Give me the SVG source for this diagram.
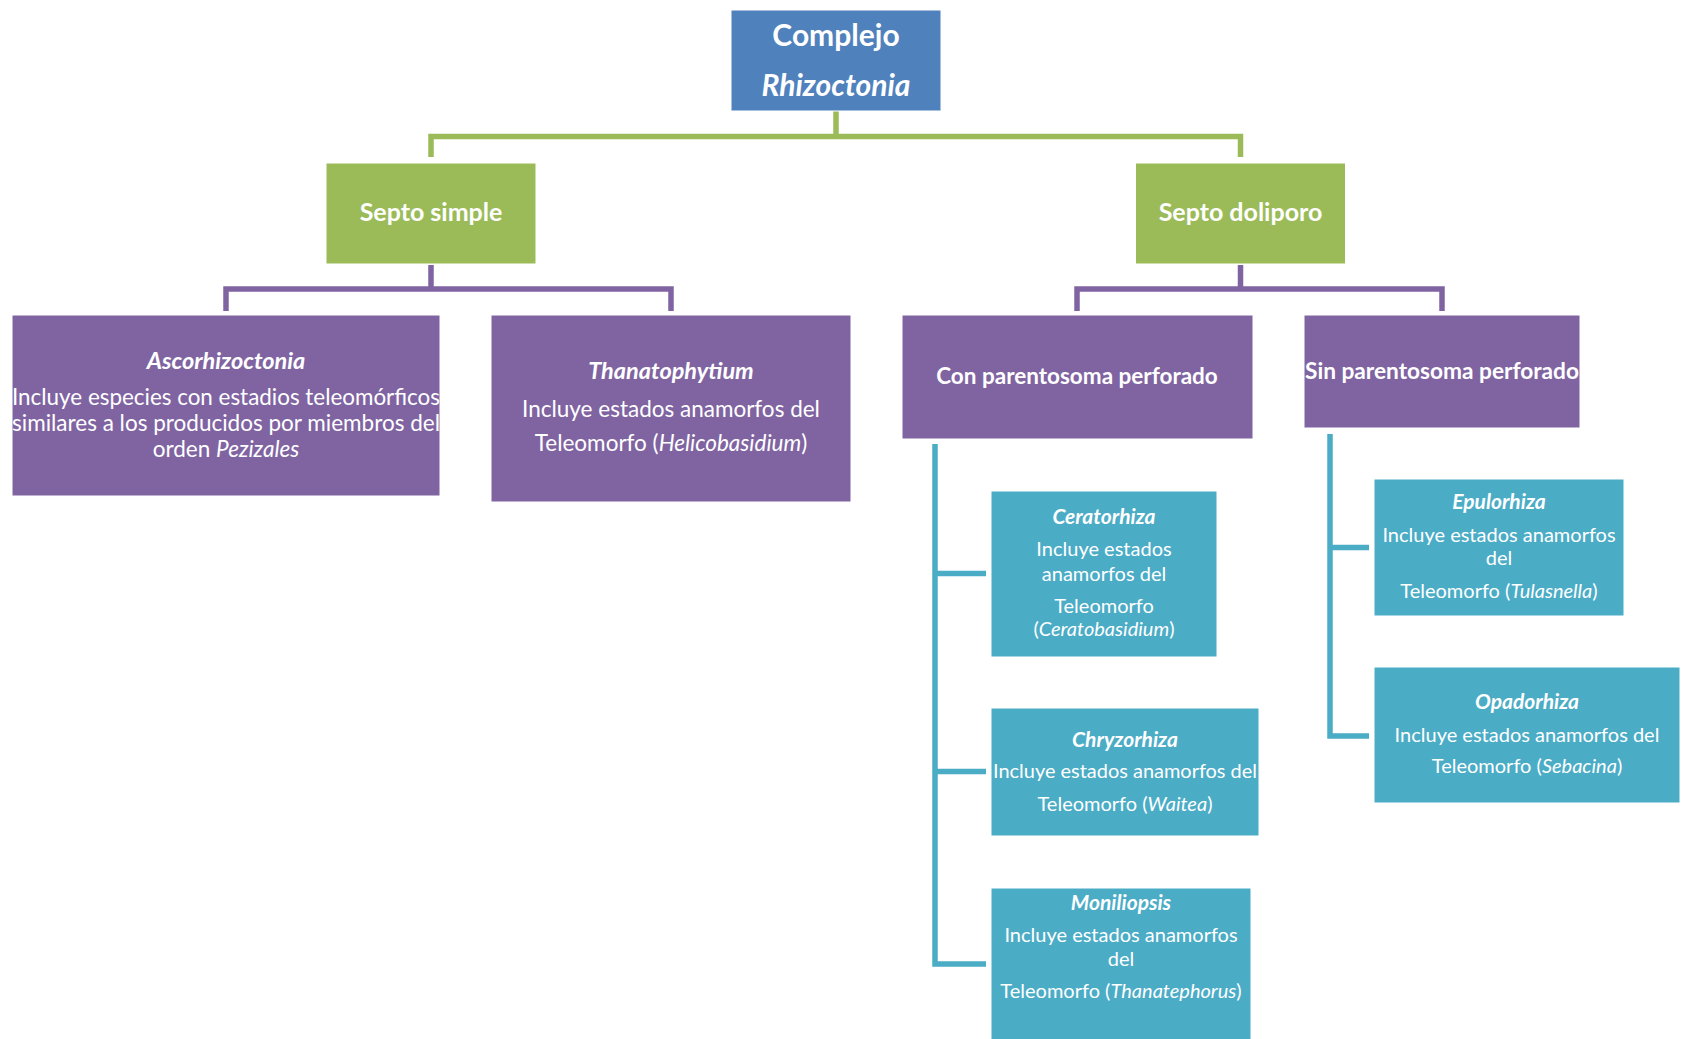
<svg xmlns="http://www.w3.org/2000/svg" width="1687" height="1039" viewBox="0 0 1687 1039">
<style>
text{font-family:Lato,"Open Sans","Liberation Sans",sans-serif;fill:#fff;text-anchor:middle}
.blue{fill:#4F81BD;stroke:#fff;stroke-width:1}
.green{fill:#9BBB59;stroke:#fff;stroke-width:1}
.purple{fill:#8064A2;stroke:#fff;stroke-width:1}
.teal{fill:#4BACC6;stroke:#fff;stroke-width:1}
.h1{font-size:30px;font-weight:bold}
.h2{font-size:25px;font-weight:bold}
.h3{font-size:22.5px;font-weight:bold}
.pt{font-size:23.5px;font-weight:bold;font-style:italic}
.pb{font-size:22.5px}
.tt{font-size:21px;font-weight:bold;font-style:italic}
.tb{font-size:20px}
.c{fill:none;stroke-width:5.5;stroke-linejoin:miter}
</style>
<rect width="1687" height="1039" fill="#fff"/>
<g id="connectors">
<path class="c" stroke="#9BBB59" d="M836 111 V136.5 M431 157 V136.5 H1240.5 V157"/>
<path class="c" stroke="#8064A2" d="M431 265 V289 M226 311 V289 H671 V311"/>
<path class="c" stroke="#8064A2" d="M1240.5 265 V289 M1077 311 V289 H1442 V311"/>
<path class="c" stroke="#4BACC6" d="M935 444 V964 H986 M935 573.5 H986 M935 771.5 H986"/>
<path class="c" stroke="#4BACC6" d="M1330 434 V736 H1369 M1330 547.6 H1369"/>
</g>
<g id="root">
<rect class="blue" x="731" y="10" width="210" height="101"/>
<text class="h1" x="836" y="46">Complejo</text>
<text class="h1" x="836" y="95.5" font-style="italic">Rhizoctonia</text>
</g>
<g id="septo-simple">
<rect class="green" x="326" y="163" width="210" height="101"/>
<text class="h2" x="431" y="221">Septo simple</text>
</g>
<g id="septo-doliporo">
<rect class="green" x="1135.5" y="163" width="210" height="101"/>
<text class="h2" x="1240.5" y="221">Septo doliporo</text>
</g>
<g id="ascorhizoctonia">
<rect class="purple" x="12" y="315" width="428" height="181"/>
<text class="pt" x="226" y="368.5">Ascorhizoctonia</text>
<text class="pb" x="226" y="405" textLength="428" lengthAdjust="spacingAndGlyphs">Incluye especies con estadios teleomórficos</text>
<text class="pb" x="226" y="431" textLength="428" lengthAdjust="spacingAndGlyphs">similares a los producidos por miembros del</text>
<text class="pb" x="226" y="456.5">orden <tspan font-style="italic">Pezizales</tspan></text>
</g>
<g id="thanatophytium">
<rect class="purple" x="491" y="315" width="360" height="187"/>
<text class="pt" x="671" y="379">Thanatophytium</text>
<text class="pb" x="671" y="417">Incluye estados anamorfos del</text>
<text class="pb" x="671" y="451">Teleomorfo (<tspan font-style="italic">Helicobasidium</tspan>)</text>
</g>
<g id="con-parentosoma">
<rect class="purple" x="902" y="315" width="351" height="124"/>
<text class="h3" x="1077" y="383.5">Con parentosoma perforado</text>
</g>
<g id="sin-parentosoma">
<rect class="purple" x="1304" y="315" width="276" height="113"/>
<text class="h3" x="1442" y="379" textLength="274" lengthAdjust="spacingAndGlyphs">Sin parentosoma perforado</text>
</g>
<g id="ceratorhiza">
<rect class="teal" x="991" y="491" width="226" height="166"/>
<text class="tt" x="1104" y="523.5">Ceratorhiza</text>
<text class="tb" x="1104" y="556">Incluye estados</text>
<text class="tb" x="1104" y="580.5">anamorfos del</text>
<text class="tb" x="1104" y="612.7">Teleomorfo</text>
<text class="tb" x="1104" y="636.4">(<tspan font-style="italic">Ceratobasidium</tspan>)</text>
</g>
<g id="chryzorhiza">
<rect class="teal" x="991" y="708" width="268" height="128"/>
<text class="tt" x="1125" y="746.5">Chryzorhiza</text>
<text class="tb" x="1125" y="778.4" textLength="264" lengthAdjust="spacingAndGlyphs">Incluye estados anamorfos del</text>
<text class="tb" x="1125" y="810.7">Teleomorfo (<tspan font-style="italic">Waitea</tspan>)</text>
</g>
<g id="moniliopsis">
<rect class="teal" x="991" y="888" width="260" height="160"/>
<text class="tt" x="1121" y="910">Moniliopsis</text>
<text class="tb" x="1121" y="942">Incluye estados anamorfos</text>
<text class="tb" x="1121" y="965.6">del</text>
<text class="tb" x="1121" y="998">Teleomorfo (<tspan font-style="italic">Thanatephorus</tspan>)</text>
</g>
<g id="epulorhiza">
<rect class="teal" x="1374" y="479" width="250" height="137"/>
<text class="tt" x="1499" y="509">Epulorhiza</text>
<text class="tb" x="1499" y="541.7">Incluye estados anamorfos</text>
<text class="tb" x="1499" y="565.4">del</text>
<text class="tb" x="1499" y="597.7">Teleomorfo (<tspan font-style="italic">Tulasnella</tspan>)</text>
</g>
<g id="opadorhiza">
<rect class="teal" x="1374" y="667" width="306" height="136"/>
<text class="tt" x="1527" y="709">Opadorhiza</text>
<text class="tb" x="1527" y="741.8">Incluye estados anamorfos del</text>
<text class="tb" x="1527" y="773">Teleomorfo (<tspan font-style="italic">Sebacina</tspan>)</text>
</g>
</svg>
